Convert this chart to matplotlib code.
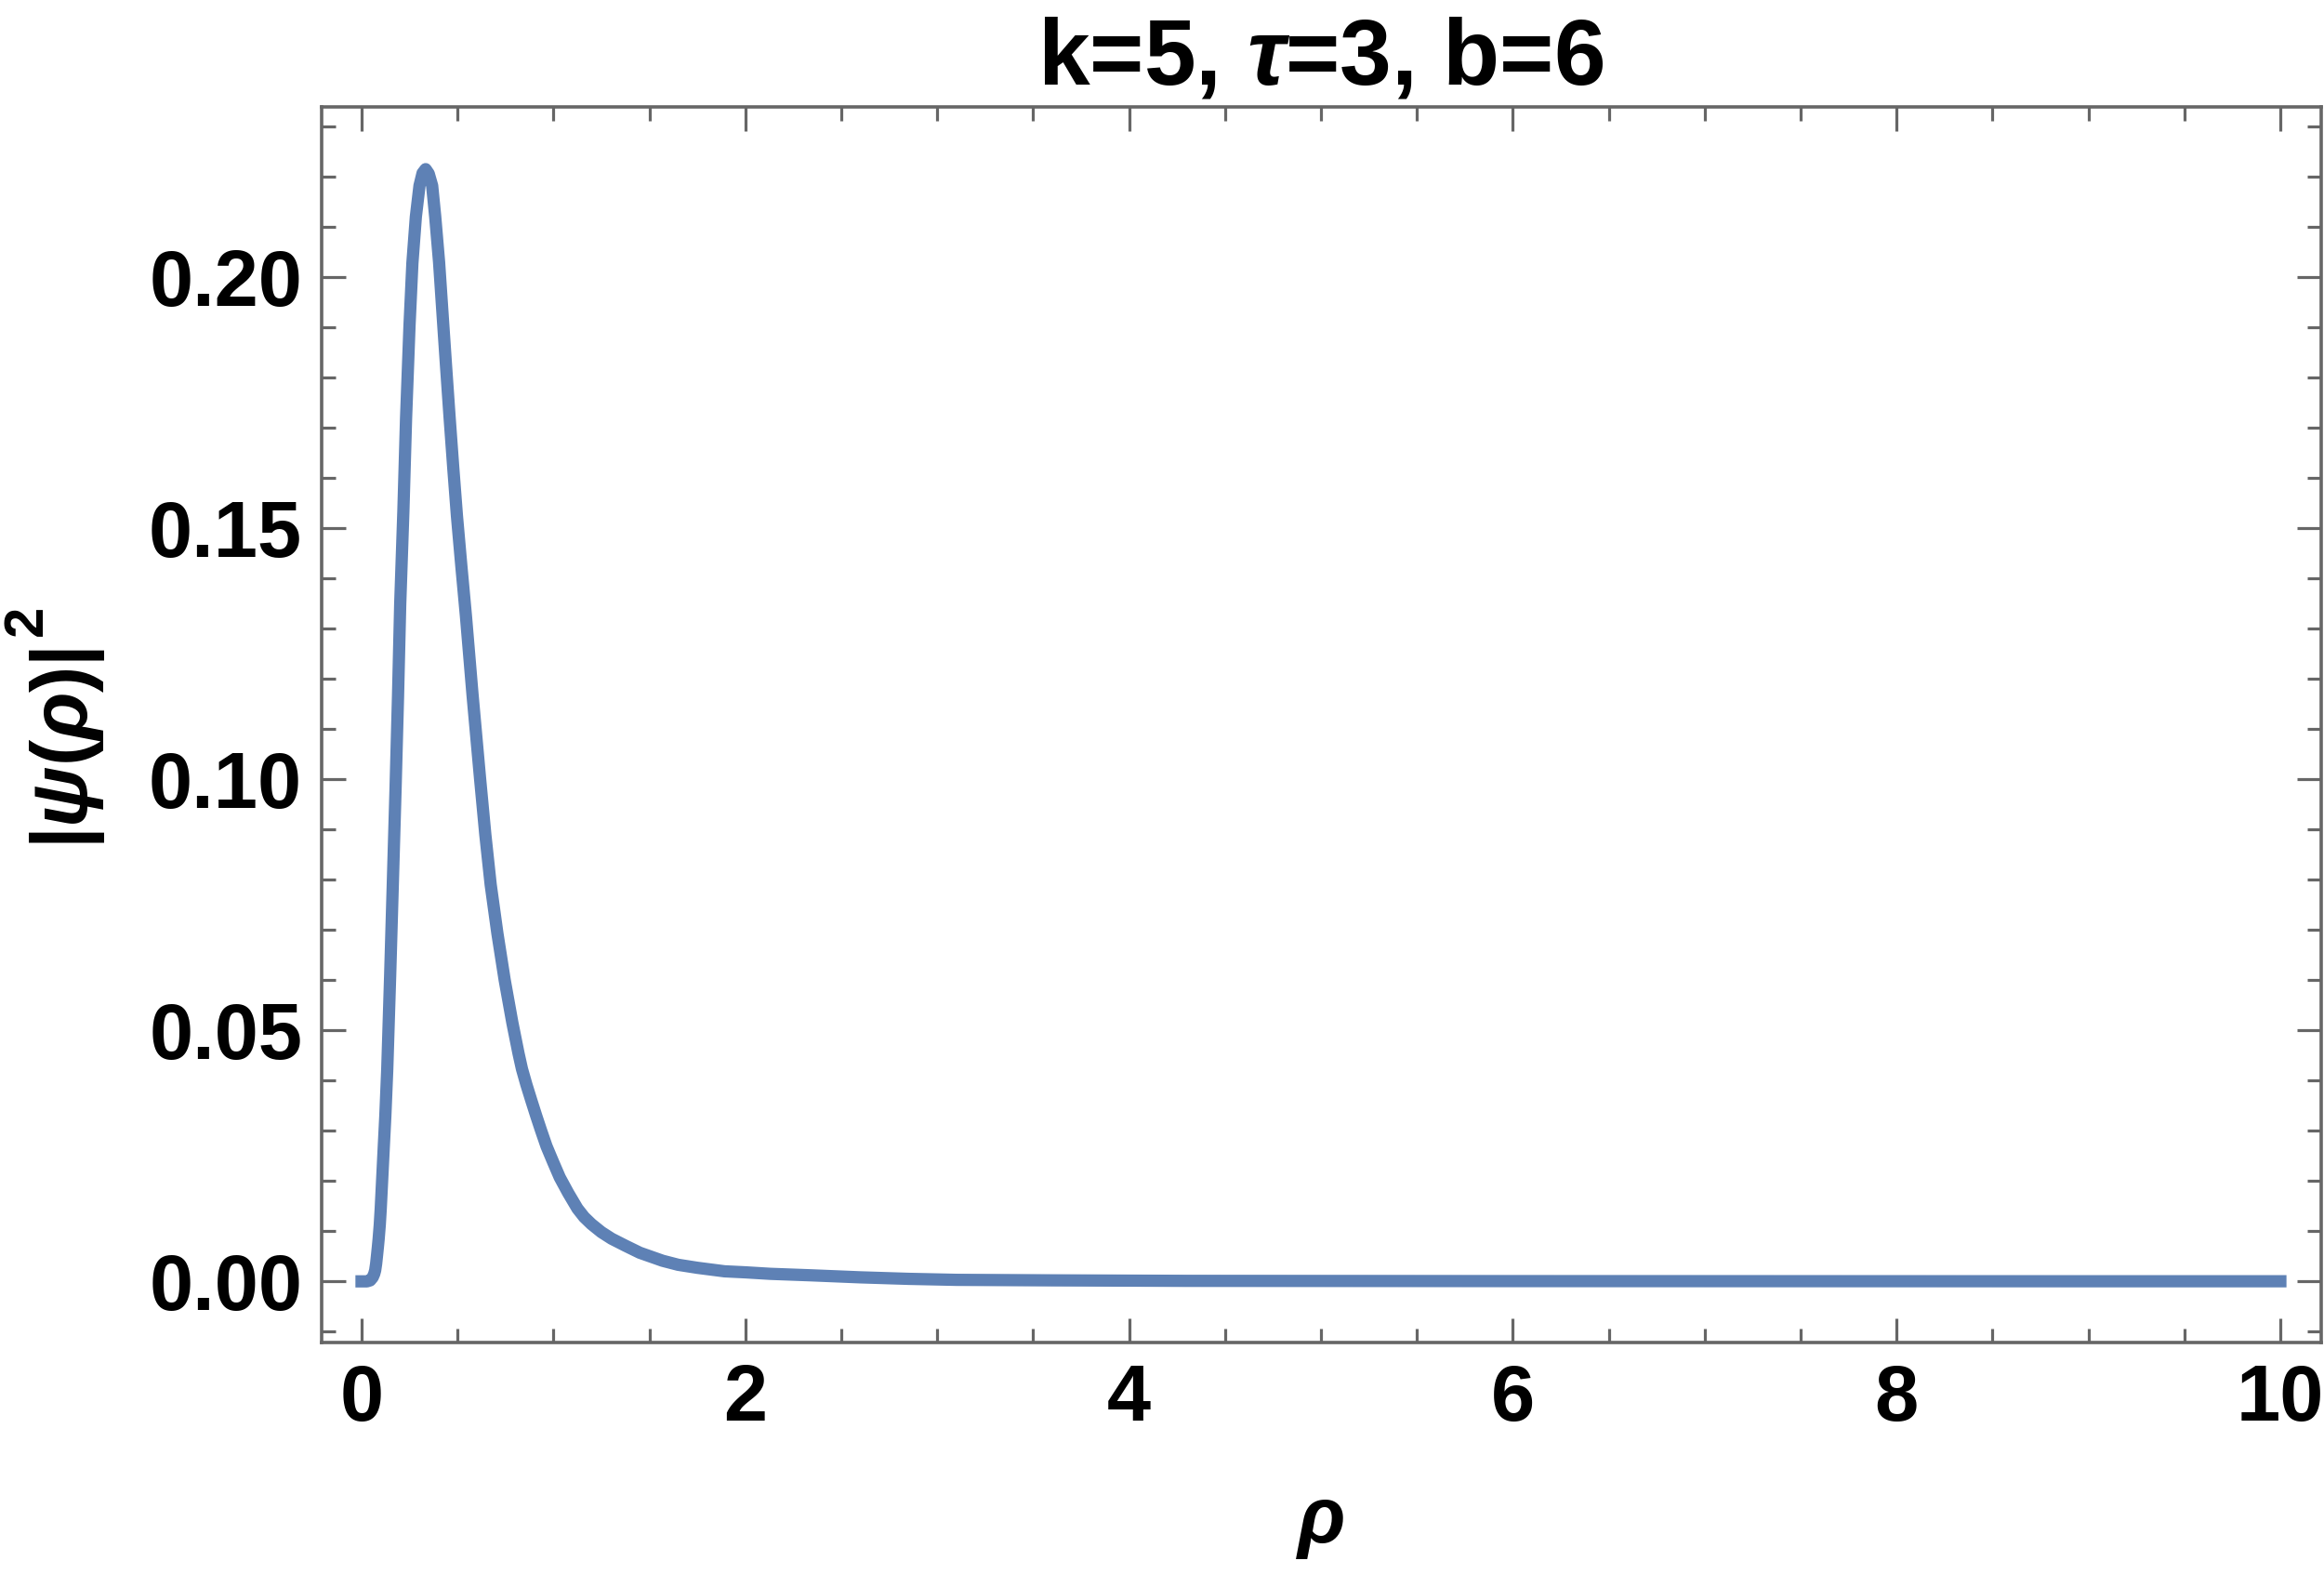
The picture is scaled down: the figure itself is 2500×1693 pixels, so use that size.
import numpy as np
import matplotlib
matplotlib.use("Agg")
import matplotlib.pyplot as plt
from matplotlib.ticker import FixedLocator, FormatStrFormatter

# fonts: bold sans everywhere, greek letters bold italic in math
plt.rcParams['font.family'] = ['Liberation Sans', 'DejaVu Sans']
plt.rcParams['font.weight'] = 'bold'
plt.rcParams['mathtext.fontset'] = 'custom'
plt.rcParams['mathtext.rm'] = 'Liberation Sans:bold'
plt.rcParams['mathtext.bf'] = 'Liberation Sans:bold'
plt.rcParams['mathtext.it'] = 'Liberation Sans:italic:bold'

# values
rho = [0.0, 0.028, 0.045, 0.058, 0.066, 0.071, 0.076, 0.081, 0.085, 0.089,
       0.095, 0.100, 0.108, 0.116, 0.124, 0.134, 0.149, 0.163, 0.177, 0.190,
       0.2015, 0.218, 0.232, 0.250, 0.265, 0.283, 0.302, 0.318, 0.334, 0.350,
       0.368, 0.384, 0.404, 0.425, 0.440, 0.459, 0.478, 0.497, 0.520, 0.544,
       0.578, 0.618, 0.645, 0.673, 0.708, 0.746, 0.786, 0.818, 0.836, 0.859,
       0.885, 0.910, 0.936, 0.964, 0.998, 1.033, 1.077, 1.125, 1.160, 1.198,
       1.250, 1.303, 1.375, 1.450, 1.569, 1.650, 1.750, 1.892, 2.000, 2.130,
       2.344, 2.600, 2.850, 3.100, 3.600, 4.300, 5.000, 6.000, 7.000, 8.000,
       9.000, 10.000]
psi2 = [0.0, 0.0, 0.0002, 0.0008, 0.0015, 0.0022, 0.0035, 0.0053, 0.0068, 0.0084,
        0.0113, 0.0145, 0.0207, 0.0269, 0.0330, 0.0423, 0.0608, 0.0793, 0.0978, 0.1164,
        0.1349, 0.1534, 0.1719, 0.1904, 0.2028, 0.2120, 0.2182, 0.2207, 0.2215, 0.2206,
        0.2182, 0.2120, 0.2030, 0.1910, 0.1825, 0.1720, 0.1620, 0.1525, 0.1425, 0.1325,
        0.1170, 0.1000, 0.0890, 0.0790, 0.0693, 0.0600, 0.0515, 0.0454, 0.0423, 0.0392,
        0.0360, 0.0330, 0.0300, 0.0269, 0.0238, 0.0207, 0.0176, 0.0145, 0.0128, 0.0114,
        0.0098, 0.0085, 0.0071, 0.0057, 0.0041, 0.0033, 0.0027, 0.0020, 0.0018, 0.0015,
        0.0012, 0.0008, 0.0005, 0.0003, 0.0002, 0.0001, 0.00008, 0.00005, 0.00004, 0.00003,
        0.00002, 0.00002]

x_major = [0, 2, 4, 6, 8, 10]
y_major = [0.00, 0.05, 0.10, 0.15, 0.20]
title_text = r'k=5, $\tau$=3, b=6'

fig = plt.figure(figsize=(25, 16.93), dpi=100)
ax = fig.add_axes([0.1384, 0.1471, 0.8604, 0.785])

ax.plot(rho, psi2, color='#5E81B5', lw=9.5,
        solid_capstyle='projecting', solid_joinstyle='round')

ax.set_xlim(-0.208, 10.213)
ax.set_ylim(-0.01217, 0.2339)

ax.xaxis.set_major_locator(FixedLocator(x_major))
ax.xaxis.set_minor_locator(FixedLocator([v for v in np.arange(0, 10.01, 0.5) if v % 2 != 0]))
ax.yaxis.set_major_locator(FixedLocator(y_major))
ax.yaxis.set_minor_locator(FixedLocator([v for v in np.arange(-0.01, 0.235, 0.01)
                                         if abs(v / 0.05 - round(v / 0.05)) > 1e-6]))
ax.yaxis.set_major_formatter(FormatStrFormatter('%.2f'))

gray = '#666666'
for s in ax.spines.values():
    s.set_color(gray)
    s.set_linewidth(2.6)
ax.tick_params(which='both', direction='in', color=gray, width=2.3,
               top=True, right=True, labelsize=61)
ax.tick_params(which='major', length=18.5)
ax.tick_params(which='minor', length=10.5)
ax.tick_params(axis='x', pad=16)
ax.tick_params(axis='y', pad=15)
for lab in ax.get_xticklabels() + ax.get_yticklabels():
    lab.set_fontweight('bold')

ax.set_xlabel('ρ', fontsize=61, fontweight='bold', fontstyle='italic')
ax.xaxis.set_label_coords(0.5, -0.115)

# y label: main part plus a raised exponent, as in the reference
ax.set_ylabel(r'$|\psi(\rho)|$', fontsize=61)
ax.yaxis.set_label_coords(-0.1074, 0.481)
ax.text(-0.147, 0.584, '2', transform=ax.transAxes, rotation=90,
        ha='center', va='center', fontsize=43, fontweight='bold')

fig.text(0.5684, 1 - 91 / 1693, title_text, ha='center', va='baseline',
         fontsize=72, fontweight='bold')

fig.savefig('out.png', dpi=100, facecolor='white')
